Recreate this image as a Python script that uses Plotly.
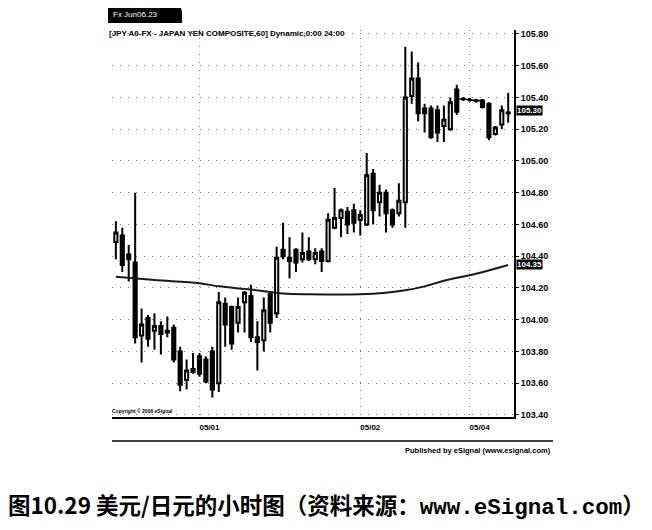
import plotly.graph_objects as go

# ---------------- data ----------------
idx = list(range(62))
opens = [104.49, 104.53, 104.41, 104.36, 103.90, 104.01, 103.93, 103.96, 103.92, 103.95,
         103.80, 103.62, 103.67, 103.77, 103.75, 103.80, 103.60, 104.10, 104.08, 103.98,
         104.11, 104.15, 103.89, 103.87, 104.16, 104.04, 104.44, 104.37, 104.44, 104.38,
         104.43, 104.38, 104.43, 104.37, 104.58, 104.64, 104.68, 104.69, 104.63, 104.60,
         104.92, 104.74, 104.80, 104.69, 104.67, 104.74, 105.41, 105.52, 105.33, 105.33,
         105.32, 105.22, 105.20, 105.45, 105.39, 105.385, 105.38, 105.38, 105.36, 105.17,
         105.23, 105.30]
highs = [104.62, 104.58, 104.47, 104.80, 104.07, 104.03, 104.04, 103.99, 104.02, 103.97,
         103.83, 103.75, 103.79, 103.79, 103.77, 103.83, 104.175, 104.14, 104.09, 104.14,
         104.18, 104.22, 103.99, 104.14, 104.17, 104.46, 104.61, 104.52, 104.45, 104.55,
         104.52, 104.45, 104.45, 104.67, 104.83, 104.70, 104.71, 104.73, 104.69, 105.05,
         104.95, 104.85, 104.82, 104.70, 104.86, 105.72, 105.69, 105.62, 105.36, 105.35,
         105.35, 105.35, 105.40, 105.48, 105.392, 105.387, 105.382, 105.39, 105.37, 105.22,
         105.35, 105.43]
lows = [104.38, 104.30, 104.24, 103.85, 103.73, 103.83, 103.81, 103.78, 103.89, 103.73,
        103.55, 103.56, 103.66, 103.64, 103.60, 103.51, 103.545, 103.83, 103.81, 103.92,
        103.92, 103.86, 103.68, 103.80, 103.92, 104.01, 104.38, 104.26, 104.30, 104.36,
        104.37, 104.35, 104.30, 104.36, 104.57, 104.52, 104.54, 104.55, 104.53, 104.59,
        104.60, 104.65, 104.55, 104.58, 104.65, 104.58, 105.36, 105.25, 105.18, 105.14,
        105.12, 105.12, 105.19, 105.29, 105.388, 105.383, 105.378, 105.33, 105.13, 105.16,
        105.20, 105.24]
closes = [104.55, 104.345, 104.38, 103.89, 103.97, 103.88, 103.96, 103.91, 103.93, 103.75,
          103.59, 103.68, 103.69, 103.66, 103.61, 103.56, 104.11, 103.97, 103.85, 104.08,
          104.17, 103.89, 103.86, 104.06, 103.98, 104.39, 104.40, 104.39, 104.36, 104.42,
          104.38, 104.42, 104.37, 104.63, 104.64, 104.69, 104.60, 104.61, 104.66, 104.91,
          104.69, 104.80, 104.67, 104.60, 104.75, 105.40, 105.52, 105.30, 105.30, 105.15,
          105.18, 105.26, 105.37, 105.31, 105.39, 105.385, 105.38, 105.34, 105.15, 105.21,
          105.32, 105.305]

# flat (holiday) stretch drawn as connected points
flat_idx = [53, 54, 55, 56, 57]
flat_val = [105.39, 105.39, 105.385, 105.38, 105.38]

# moving average read at sample candles
ma_idx = [0, 6, 13, 16, 21, 26, 30, 38, 42, 45, 48, 51, 56, 61]
ma_val = [104.27, 104.25, 104.23, 104.21, 104.19, 104.165, 104.16, 104.16, 104.17,
          104.185, 104.21, 104.245, 104.29, 104.345]

y_ticks = [103.40, 103.60, 103.80, 104.00, 104.20, 104.40, 104.60, 104.80,
           105.00, 105.20, 105.40, 105.60, 105.80]
day_ticks = [13, 38, 55]
day_labels = ["05/01", "05/02", "05/04"]
last_labels = [(105.32, "105.30"), (104.35, "104.35")]

# ---------------- layout geometry (reference pixel coords) ----------------
W, H = 652, 530
OFF = 8          # page body margin of the html page
L, R, T, B = 112, 514, 30, 417


def px(x):
    return (x - L) / (R - L)


def py(y):
    return (B - y) / (B - T)


fig = go.Figure()

fig.add_trace(go.Candlestick(
    x=idx, open=opens, high=highs, low=lows, close=closes,
    increasing=dict(line=dict(color="black", width=2), fillcolor="white"),
    decreasing=dict(line=dict(color="black", width=2), fillcolor="black"),
    whiskerwidth=0, showlegend=False, hoverinfo="skip",
))

fig.add_trace(go.Scatter(
    x=flat_idx, y=flat_val, mode="lines+markers",
    line=dict(color="black", width=1.6), marker=dict(size=4, color="black"),
    showlegend=False, hoverinfo="skip",
))

fig.add_trace(go.Scatter(
    x=ma_idx, y=ma_val, mode="lines", line=dict(color="#1a1a1a", width=2, shape="spline"),
    showlegend=False, hoverinfo="skip",
))

font_b = dict(family="Liberation Sans, Arial, sans-serif", color="black")

fig.update_layout(
    width=W - OFF, height=H - OFF,
    margin=dict(l=L - OFF, r=W - R, t=T - OFF, b=H - B, pad=0),
    paper_bgcolor="white", plot_bgcolor="white",
    xaxis=dict(
        range=[-0.6, 61.9], rangeslider=dict(visible=False),
        tickvals=day_ticks, ticktext=day_labels, ticks="",
        tickfont=dict(size=8, weight="bold", **font_b),
        ticklabelshift=10, ticklabelstandoff=2,
        showgrid=True, gridcolor="#777", griddash="1px,7px", gridwidth=1,
        showline=True, linecolor="black", linewidth=1.5, zeroline=False,
        fixedrange=True,
    ),
    yaxis=dict(
        range=[103.387, 105.825], side="right",
        tickvals=y_ticks, ticktext=[f"{v:.2f}" for v in y_ticks],
        tickfont=dict(size=9, weight="bold", **font_b),
        ticks="outside", ticklen=3, tickcolor="black", tickwidth=1,
        showgrid=True, gridcolor="#777", griddash="1px,7px", gridwidth=1,
        showline=True, linecolor="black", linewidth=2, zeroline=False,
        fixedrange=True,
    ),
)

shapes = []
# header tab with rounded corner
x0, x1, y0, y1 = px(108), px(182), py(23), py(5)
rc = px(182) - px(174)
ry = py(5) - py(13)
shapes.append(dict(
    type="path", xref="paper", yref="paper",
    path=f"M {x0} {y0} L {x0} {y1} L {x1 - rc} {y1} Q {x1} {y1} {x1} {y1 - ry} L {x1} {y0} Z",
    fillcolor="black", line=dict(color="black", width=0),
))
# lower separator line
shapes.append(dict(type="line", xref="paper", yref="paper",
                   x0=px(112), x1=px(553), y0=py(441), y1=py(441),
                   line=dict(color="black", width=1.5)))
fig.update_layout(shapes=shapes)

ann = []
ann.append(dict(xref="paper", yref="paper", x=px(111), y=py(14), xanchor="left", yanchor="middle",
                text="Fx Jun06.23", showarrow=False,
                font=dict(size=8, color="white", family="Liberation Sans")))
ann.append(dict(xref="paper", yref="paper", x=px(107), y=py(33), xanchor="left", yanchor="middle",
                text="[JPY A0-FX - JAPAN YEN COMPOSITE,60] Dynamic,0:00 24:00", showarrow=False,
                font=dict(size=8, weight="bold", **font_b)))
ann.append(dict(xref="paper", yref="paper", x=px(110), y=py(411), xanchor="left", yanchor="middle",
                text="Copyright © 2006 eSignal", showarrow=False,
                font=dict(size=5, weight="bold", **font_b)))
ann.append(dict(xref="paper", yref="paper", x=px(553), y=py(450), xanchor="right", yanchor="middle",
                text="Published by eSignal (www.esignal.com)", showarrow=False,
                font=dict(size=7.5, weight="bold", **font_b)))
for val, txt in last_labels:
    ann.append(dict(xref="paper", yref="y", x=px(516), y=val, xanchor="left", yanchor="middle",
                    text=txt, showarrow=False, bgcolor="black", borderpad=0,
                    font=dict(size=8, weight="bold", color="white", family="Liberation Sans")))
ann.append(dict(xref="paper", yref="paper", x=px(326), y=py(504),
                xanchor="center", yanchor="middle", showarrow=False,
                text="图10.29 美元/日元的小时图（资料来源：<span style=\"font-family:'Liberation Mono', monospace\">www.eSignal.com</span>）",
                font=dict(size=22.5, weight="bold", family="Noto Sans CJK SC", color="black")))
fig.update_layout(annotations=ann)

fig.write_html("out.html")
